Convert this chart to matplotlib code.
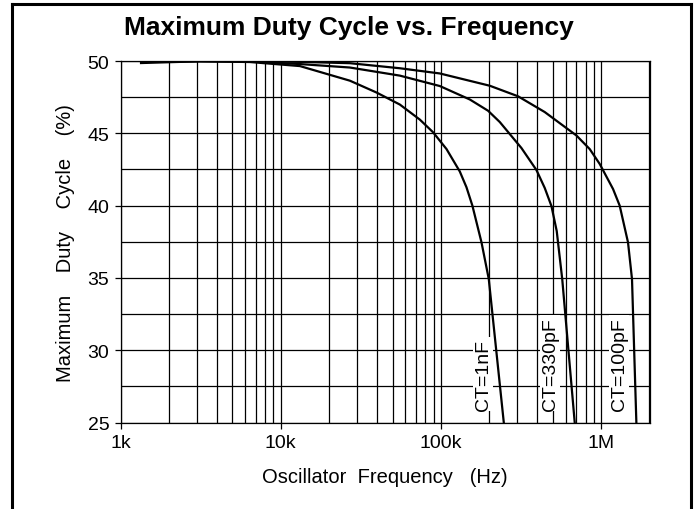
import matplotlib
matplotlib.use('Agg')
import matplotlib.pyplot as plt
from matplotlib.lines import Line2D
from matplotlib.ticker import LogLocator, FixedLocator, NullFormatter

plt.rcParams['font.family'] = ['Liberation Sans', 'DejaVu Sans']

# 讀取自參考圖的數值
freq_1nF = [1343, 3133, 6425, 13.18e3, 27.02e3, 39.66e3, 55.41e3, 73.84e3, 89.40e3,
            108.4e3, 131.2e3, 144.4e3, 157.2e3, 179.2e3, 199.0e3, 246.9e3]
duty_1nF = [49.86, 49.98, 49.93, 49.65, 48.64, 47.82, 46.99, 45.95, 45.07,
            43.91, 42.36, 41.27, 40.00, 37.46, 34.92, 25.0]

freq_330pF = [1382, 3133, 6425, 13.18e3, 27.02e3, 55.41e3, 98.4e3, 151.5e3, 197.0e3,
              233.1e3, 318.3e3, 394.8e3, 444.8e3, 489.8e3, 528.4e3, 571.9e3, 684.4e3]
duty_330pF = [49.95, 49.99, 49.97, 49.79, 49.55, 48.99, 48.27, 47.34, 46.56,
              45.78, 43.98, 42.46, 41.22, 39.97, 38.24, 34.92, 25.0]

freq_100pF = [1382, 3133, 6425, 13.18e3, 27.02e3, 55.41e3, 98.4e3, 201.9e3, 303.1e3,
              444.8e3, 701.3e3, 849.0e3, 980.2e3, 1.187e6, 1.306e6, 1.472e6, 1.559e6,
              1.660e6]
duty_100pF = [49.95, 49.99, 49.98, 49.94, 49.85, 49.50, 49.14, 48.29, 47.56,
              46.47, 44.85, 43.91, 42.88, 41.15, 40.00, 37.46, 34.92,
              25.0]

series = [(freq_1nF, duty_1nF), (freq_330pF, duty_330pF), (freq_100pF, duty_100pF)]

label_text = ['CT=1nF', 'CT=330pF', 'CT=100pF']
label_freq = [184e3, 482e3, 1.30e6]
label_duty = [28.35, 29.1, 29.1]

x_ticks = [1e3, 1e4, 1e5, 1e6]
x_tick_labels = ['1k', '10k', '100k', '1M']
y_ticks = [25, 30, 35, 40, 45, 50]

fig = plt.figure(figsize=(6.97, 5.10), dpi=100)
ax = fig.add_axes([0.1729, 0.1696, 0.7597, 0.7088])

for f, d in series:
    ax.plot(f, d, color='black', lw=1.6, zorder=3)

ax.set_xscale('log')
ax.set_xlim(1e3, 2.02e6)
ax.set_ylim(25, 50)

ax.xaxis.set_major_locator(FixedLocator(x_ticks))
ax.set_xticklabels(x_tick_labels)
ax.xaxis.set_minor_locator(LogLocator(base=10, subs=range(2, 10)))
ax.xaxis.set_minor_formatter(NullFormatter())
ax.set_yticks(y_ticks)
ax.set_yticks([27.5, 32.5, 37.5, 42.5, 47.5], minor=True)

ax.grid(True, which='both', color='black', lw=0.9)
ax.tick_params(which='major', direction='out', length=4, width=0.9, labelsize=14, pad=4)
ax.tick_params(which='minor', length=0)
for s in ax.spines.values():
    s.set_linewidth(0.9)

for t, f, d in zip(label_text, label_freq, label_duty):
    ax.text(f, d, t, rotation=90, ha='center', va='center', fontsize=14,
            bbox=dict(facecolor='white', edgecolor='none', pad=1), zorder=4)

ax.set_xlabel('Oscillator  Frequency   (Hz)', fontsize=14.5, labelpad=12)
ax.set_ylabel('Maximum    Duty    Cycle    (%)', fontsize=14.5, labelpad=9)
fig.text(0.50, 0.945, 'Maximum Duty Cycle vs. Frequency', ha='center', va='center',
         fontsize=19, fontweight='bold')

# 外框
bw = 2.2
fig.add_artist(Line2D([11.5 / 697, 11.5 / 697], [-0.1, 1 - 4.5 / 510], color='black', lw=bw,
                      transform=fig.transFigure, solid_capstyle='projecting'))
fig.add_artist(Line2D([11.5 / 697, 691 / 697], [1 - 4.5 / 510, 1 - 4.5 / 510], color='black', lw=bw,
                      transform=fig.transFigure, solid_capstyle='projecting'))
fig.add_artist(Line2D([691 / 697, 691 / 697], [-0.1, 1 - 4.5 / 510], color='black', lw=bw,
                      transform=fig.transFigure, solid_capstyle='projecting'))

fig.savefig('out.png', dpi=100)
